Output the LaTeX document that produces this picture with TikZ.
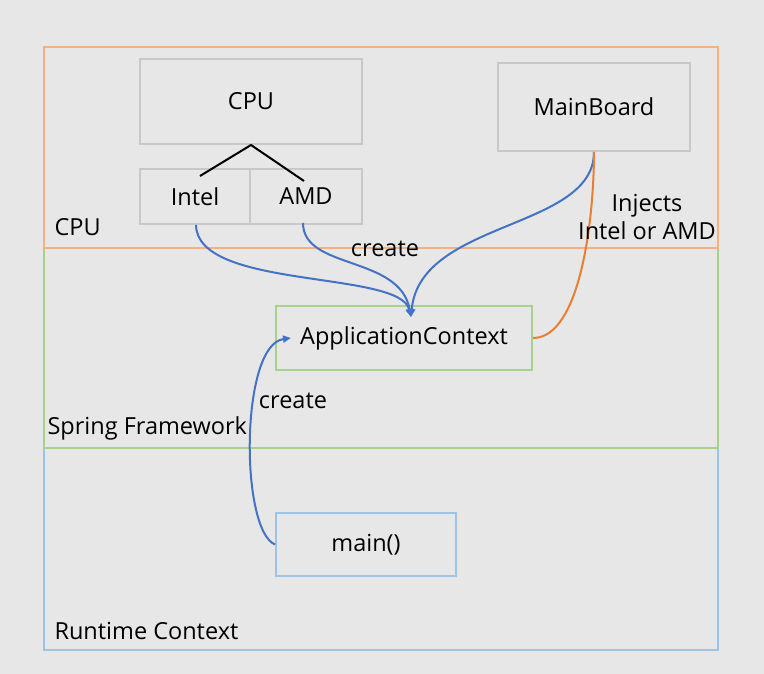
\documentclass[tikz,border=0pt]{standalone}
\usepackage{fontspec}
\setmainfont{Open Sans}
\usetikzlibrary{arrows.meta}
\definecolor{bggray}{HTML}{E7E7E7}
\definecolor{boxgray}{HTML}{C8C8C8}
\definecolor{frameorange}{HTML}{F4B183}
\definecolor{framegreen}{HTML}{A9D18E}
\definecolor{frameblue}{HTML}{9DC3E6}
\definecolor{linkblue}{HTML}{4472C4}
\definecolor{linkorange}{HTML}{ED7D31}

\begin{document}
\begin{tikzpicture}[x=1pt,y=-1pt,
    font=\fontsize{23.5}{28}\selectfont,
    box/.style={draw=#1, line width=2pt, inner sep=0pt},
    box/.default=boxgray,
    frame/.style={draw=#1, line width=2pt},
    link/.style={draw=linkblue, line width=2pt},
    tip/.style={-{Triangle[length=8pt,width=7pt]}}]
      \fill[bggray] (0,0) rectangle (764,674);
      \useasboundingbox (0,0) rectangle (764,674);

      \draw[frame=frameblue] (44,448) rectangle (718,650);
      \draw[frame=framegreen] (44,248) rectangle (718,448);
      \draw[frame=frameorange] (44,47) rectangle (718,248);

      \node[anchor=west] (cpulabel) at (51,227) {CPU};
      \node[anchor=west] (springlabel) at (44,428) {Spring Framework};
      \node[anchor=west] (runtimelabel) at (51,631) {Runtime Context};

      \node[box, minimum width=222pt, minimum height=85pt] (cpu) at (251,101.5) {CPU};
      \node[box, minimum width=110pt, minimum height=55pt] (intel) at (195,196.5) {Intel};
      \node[box, minimum width=112pt, minimum height=55pt] (amd) at (306,196.5) {AMD};
      \node[box, minimum width=192pt, minimum height=88pt] (board) at (594,107) {MainBoard};
      \node[box=framegreen, minimum width=256pt, minimum height=64pt] (app) at (404,338) {ApplicationContext};
      \node[box=frameblue, minimum width=180pt, minimum height=63pt] (main) at (366,544.5) {main()};

      \draw[line width=2pt] ([shift={(5,8)}]intel.north) -- (cpu.south) -- ([shift={(-2,13)}]amd.north);

      \coordinate (apptop) at ([shift={(7,12)}]app.north);
      \coordinate (appleft) at ([shift={(16,0)}]app.west);

      \draw[link, tip] ([xshift=1pt]intel.south) .. controls (197,290) and (400,270) .. (apptop);
      \draw[link, tip] ([shift={(-3,-2)}]amd.south) .. controls (303,270) and (400,255) .. (apptop);
      \draw[link, tip] (board.south) .. controls (594,230) and (420,220) .. (apptop);
      \draw[link, draw=linkorange] (app.east) .. controls (580,338) and (594,220) .. (board.south);
      \draw[link, tip] (main.west) .. controls (240,530) and (240,345) .. (appleft);

      \node (create1) at (385,249) {create};
      \node (create2) at (293,401) {create};
      \node[align=center] (injects) at (647,217) {Injects\\Intel or AMD};
\end{tikzpicture}
\end{document}
